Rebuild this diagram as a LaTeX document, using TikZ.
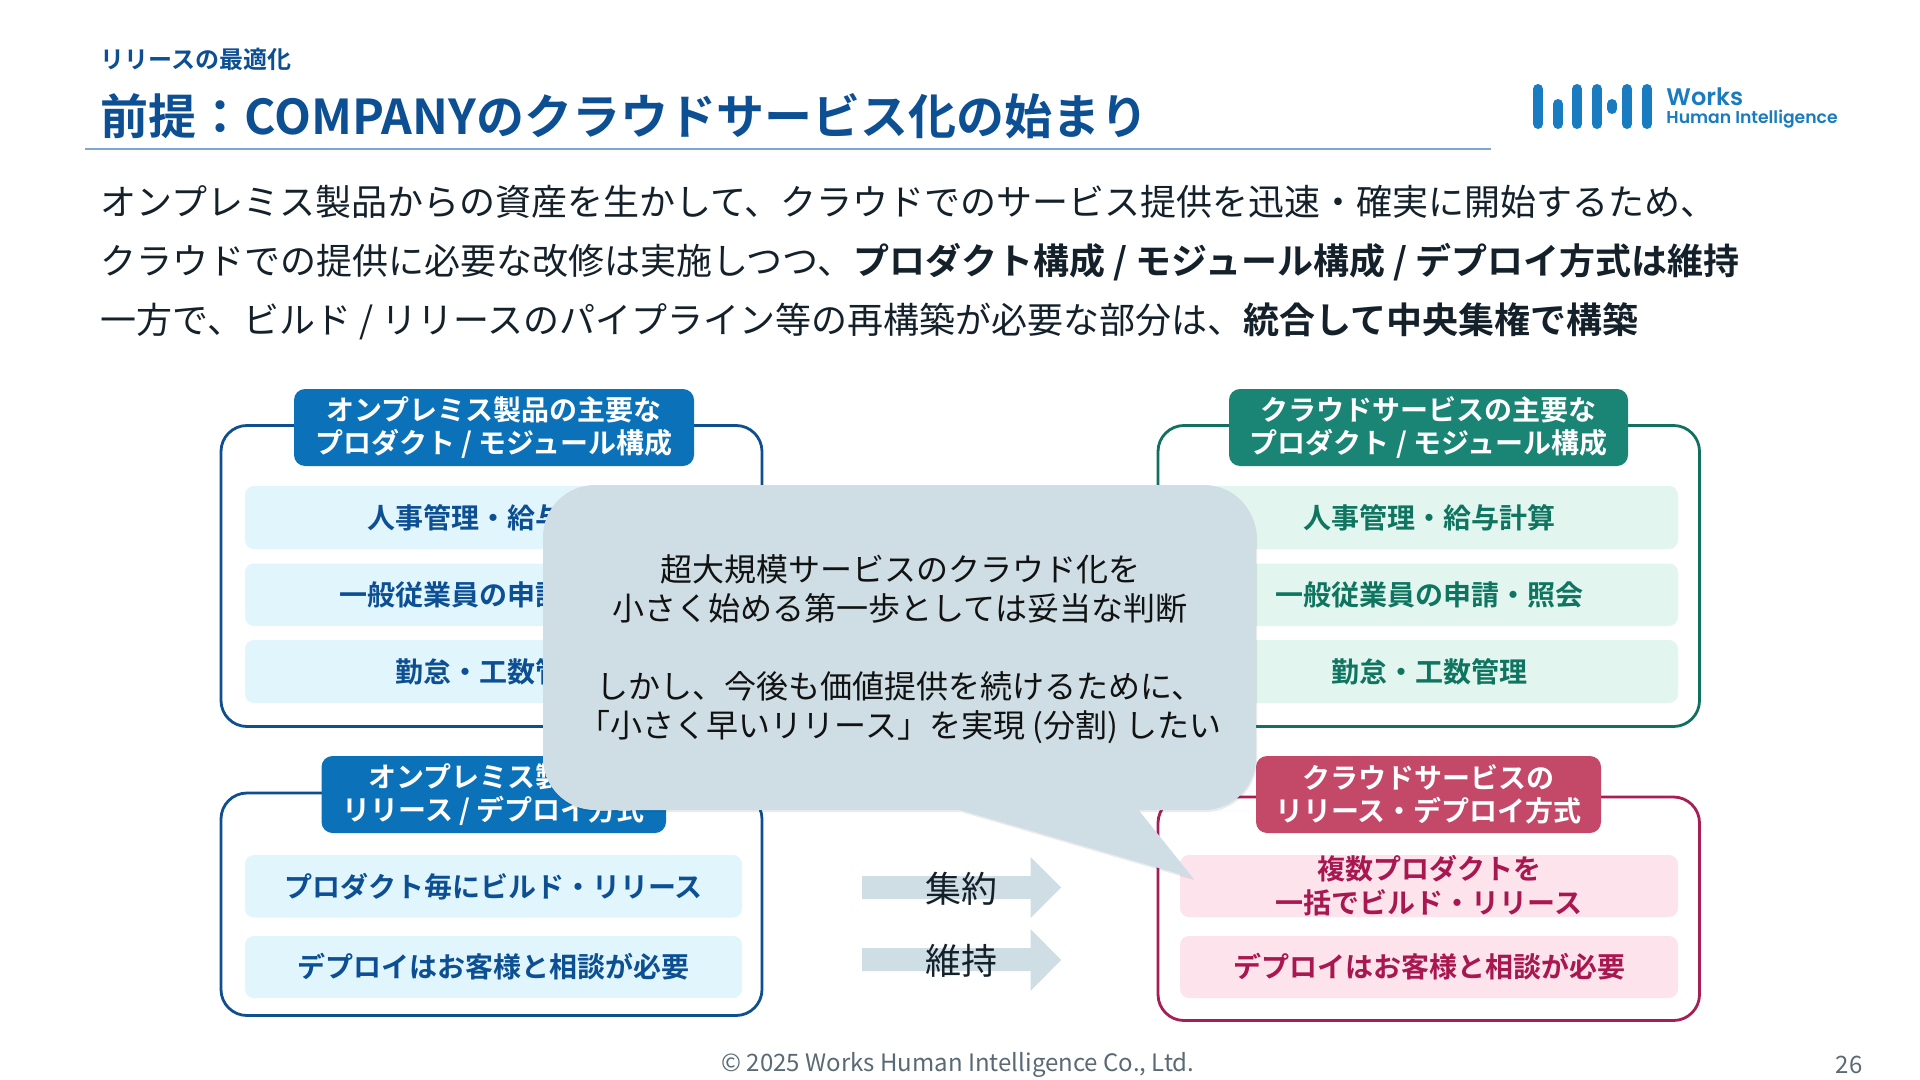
\documentclass[tikz,border=0pt]{standalone}
\usepackage{fontspec}
\setmainfont{Noto Sans CJK JP}[BoldFont={Noto Sans CJK JP Bold}]
\newfontfamily\logofont{Poppins SemiBold}
\definecolor{hdblue}{HTML}{0B72B9}
\definecolor{bdblue}{HTML}{0F4F8F}
\definecolor{itblue}{HTML}{E1F5FD}
\definecolor{txblue}{HTML}{0D4F93}
\definecolor{hdgreen}{HTML}{1A8574}
\definecolor{bdgreen}{HTML}{11705F}
\definecolor{itgreen}{HTML}{E2F5EF}
\definecolor{txgreen}{HTML}{0F7560}
\definecolor{hdpink}{HTML}{C44868}
\definecolor{bdpink}{HTML}{A81E54}
\definecolor{itpink}{HTML}{FCE3EC}
\definecolor{txpink}{HTML}{A8174F}
\definecolor{callfill}{HTML}{CFDDE4}
\definecolor{inkdark}{HTML}{14212B}
\definecolor{greyfoot}{HTML}{5A6A75}
\definecolor{rulecol}{HTML}{7FA6CF}
\definecolor{logoblue}{HTML}{1A7CC0}
\tikzset{
  frame/.style={draw=#1,line width=1.4pt,rounded corners=13pt,fill=white,inner sep=0pt},
  headbox/.style={fill=#1,rounded corners=5.5pt,inner sep=0pt,align=center,text=white,font=\fontsize{14}{16.5}\selectfont\bfseries},
  itembox/.style 2 args={fill=#1,text=#2,rounded corners=4.5pt,inner sep=0pt,align=center,font=\fontsize{14}{17}\selectfont\bfseries},
  plain/.style={inner sep=0pt,anchor=base west},
  logobar/.style={line width=5pt,line cap=round,logoblue}
}
\newcommand{\pbox}[7]{%
  \pgfmathsetmacro\cxx{(#2+#4)/2}\pgfmathsetmacro\cyy{(#3+#5)/2}%
  \pgfmathsetmacro\ww{(#4-#2)*0.5}\pgfmathsetmacro\hh{(#5-#3)*0.5}%
  \node[#6,minimum width=\ww pt,minimum height=\hh pt] (#1) at (\cxx,\cyy) {#7};}
\begin{document}
\begin{tikzpicture}[x=0.5pt,y=-0.5pt]
\useasboundingbox (0,0) rectangle (1920,1080);
\fill[white] (0,0) rectangle (1920,1080);
% heading
\node[plain,text=txblue,font=\fontsize{12}{14}\selectfont\bfseries] (kicker) at (100.5,69) {リリースの最適化};
\node[plain,text=txblue,font=\fontsize{24}{28}\selectfont\bfseries] (title) at (100.5,135) {前提：COMPANYのクラウドサービス化の始まり};
\draw[rulecol,line width=1.3pt] (84.5,149) -- (1491,149);
% logo
\draw[logobar] (1538,89) -- (1538,124);
\draw[logobar] (1558,104) -- (1558,124);
\draw[logobar] (1577,89) -- (1577,124);
\draw[logobar] (1597,89) -- (1597,124);
\draw[logobar] (1612,104) -- (1612,109);
\draw[logobar] (1627,89) -- (1627,124);
\draw[logobar] (1647,89) -- (1647,124);
\node[plain,text=logoblue,font=\logofont\fontsize{12}{12}\selectfont] (logo1) at (1666,106) {Works};
\node[plain,text=logoblue,font=\logofont\fontsize{8.6}{9}\selectfont] (logo2) at (1666,124) {Human Intelligence};
% body
\tikzset{bodytext/.style={plain,text=inkdark,font=\fontsize{18}{20}\selectfont}}
\node[bodytext] (b1) at (100.5,216) {オンプレミス製品からの資産を生かして、クラウドでのサービス提供を迅速・確実に開始するため、};
\node[bodytext] (b2) at (100.5,275) {クラウドでの提供に必要な改修は実施しつつ、{\bfseries プロダクト構成 / モジュール構成 / デプロイ方式は維持}};
\node[bodytext] (b3) at (100.5,334) {一方で、ビルド / リリースのパイプライン等の再構築が必要な部分は、{\bfseries 統合して中央集権で構築}};
% top-left
\pbox{f1}{221}{425.5}{762}{726.5}{frame=bdblue}{}
\pbox{h1}{294}{389}{694}{466}{headbox=hdblue}{オンプレミス製品の主要な\\プロダクト / モジュール構成}
\pbox{i11}{245}{486}{742}{549}{itembox={itblue}{txblue}}{人事管理・給与計算}
\pbox{i12}{245}{563.5}{742}{626}{itembox={itblue}{txblue}}{一般従業員の申請・照会}
\pbox{i13}{245}{640}{742}{703}{itembox={itblue}{txblue}}{勤怠・工数管理}
% bottom-left
\pbox{f2}{221}{793}{762}{1015.5}{frame=bdblue}{}
\pbox{h2}{321.5}{756}{666}{833}{headbox=hdblue}{オンプレミス製品の\\リリース / デプロイ方式}
\pbox{i21}{245}{855}{742}{917.5}{itembox={itblue}{txblue}}{プロダクト毎にビルド・リリース}
\pbox{i22}{245}{936}{742}{998}{itembox={itblue}{txblue}}{デプロイはお客様と相談が必要}
% top-right
\pbox{f3}{1158}{425.5}{1699.5}{726.5}{frame=bdgreen}{}
\pbox{h3}{1229}{389}{1628}{466}{headbox=hdgreen}{クラウドサービスの主要な\\プロダクト / モジュール構成}
\pbox{i31}{1180}{486}{1678}{549}{itembox={itgreen}{txgreen}}{人事管理・給与計算}
\pbox{i32}{1180}{563.5}{1678}{626}{itembox={itgreen}{txgreen}}{一般従業員の申請・照会}
\pbox{i33}{1180}{640}{1678}{703}{itembox={itgreen}{txgreen}}{勤怠・工数管理}
% bottom-right
\pbox{f4}{1158}{797}{1699.5}{1020.5}{frame=bdpink}{}
\pbox{h4}{1256}{756}{1601}{833}{headbox=hdpink}{クラウドサービスの\\リリース・デプロイ方式}
\pbox{i41}{1180}{855}{1678}{917}{itembox={itpink}{txpink}}{複数プロダクトを\\一括でビルド・リリース}
\pbox{i42}{1180}{936}{1678}{998}{itembox={itpink}{txpink}}{デプロイはお客様と相談が必要}
% arrows
\fill[callfill] (862,876) -- (1030.5,876) -- (1030.5,857) -- (1061,887.5) -- (1030.5,918) -- (1030.5,899) -- (862,899) -- cycle;
\fill[callfill] (862,948) -- (1030.5,948) -- (1030.5,929) -- (1061,960) -- (1030.5,991) -- (1030.5,971) -- (862,971) -- cycle;
\tikzset{arrowlabel/.style={inner sep=0pt,text=inkdark,font=\fontsize{18}{20}\selectfont}}
\node[arrowlabel] (a1) at (961,889) {集約};
\node[arrowlabel] (a2) at (961,961) {維持};
% callout
\path[fill=black,opacity=0.08,rounded corners=26pt,shift={(1,2)}] (800,485) -- (1256,485) -- (1256,810) -- (1200,810) [sharp corners] -- (1138.5,810) -- (1193,878) -- (960,810) -- (900,810) [rounded corners=26pt] -- (543,810) -- (543,485) -- cycle;
\path[fill=callfill,rounded corners=26pt] (800,485) -- (1256,485) -- (1256,810) -- (1200,810) [sharp corners] -- (1138.5,810) -- (1193,878) -- (960,810) -- (900,810) [rounded corners=26pt] -- (543,810) -- (543,485) -- cycle;
\node[inner sep=0pt,align=center,text=black!92!callfill,font=\fontsize{16}{19.5}\selectfont] (calltext) at (900,649.5) {超大規模サービスのクラウド化を\\小さく始める第一歩としては妥当な判断\\[19.5pt]しかし、今後も価値提供を続けるために、\\「小さく早いリリース」を実現 (分割) したい};
% footer
\node[inner sep=0pt,text=greyfoot,font=\fontsize{12}{14}\selectfont] (foot) at (958,1064.5) {© 2025 Works Human Intelligence Co., Ltd.};
\node[inner sep=0pt,text=greyfoot,font=\fontsize{12}{14}\selectfont] (page) at (1849,1065) {26};
\end{tikzpicture}
\end{document}
